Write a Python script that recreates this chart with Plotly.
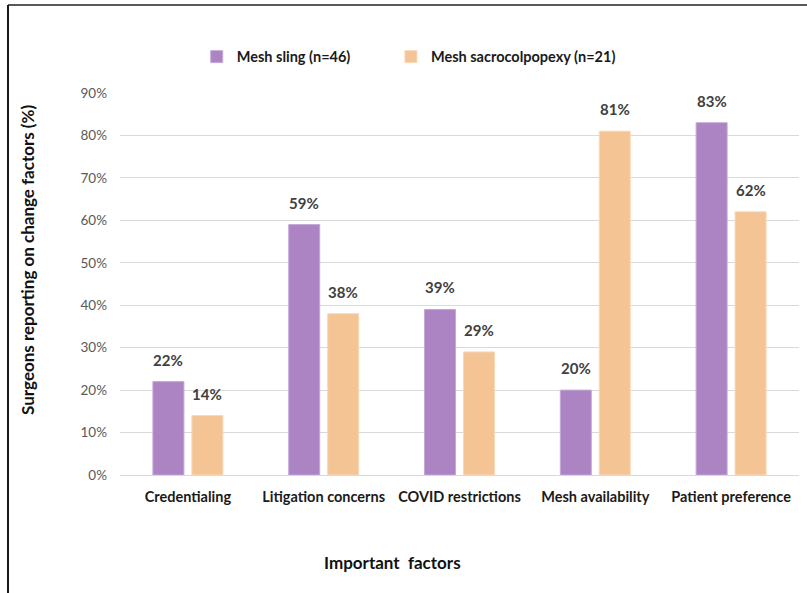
import plotly.graph_objects as go

# Survey results: share of surgeons citing each factor for a change in practice
factors = ["Credentialing", "Litigation concerns", "COVID restrictions",
           "Mesh availability", "Patient preference"]
mesh_sling = [22, 59, 39, 20, 83]
mesh_sacrocolpopexy = [14, 38, 29, 81, 62]
series_names = ["Mesh sling (n=46)", "Mesh sacrocolpopexy (n=21)"]
y_ticks = [0, 10, 20, 30, 40, 50, 60, 70, 80, 90]
y_tick_labels = [f"{t}%" for t in y_ticks]

FONT = "Lato, Carlito, Calibri, sans-serif"
PURPLE = "#ac84c4"
ORANGE = "#f4c495"
LABEL_GRAY = "#404040"

series = [
    (series_names[0], mesh_sling, PURPLE, "#c4a8d6", "legend", -19.5),
    (series_names[1], mesh_sacrocolpopexy, ORANGE, "#f8d8b8", "legend2", 19.5),
]

fig = go.Figure()
annotations = []
for name, vals, color, edge, leg, shift in series:
    fig.add_trace(go.Bar(
        x=factors, y=vals, name=name, legend=leg,
        marker=dict(color=color, line=dict(color=edge, width=1)),
    ))
    # value labels placed above each bar
    for f, v in zip(factors, vals):
        annotations.append(dict(
            x=f, y=v, xref="x", yref="y", text=f"{v}%", showarrow=False,
            xanchor="center", yanchor="bottom", xshift=shift, yshift=11,
            font=dict(family=FONT, size=15, color=LABEL_GRAY, weight="bold"),
        ))

legend_font = dict(family=FONT, size=14.5, color="#1a1a1a", weight="bold")

annotations += [
    dict(text="Surgeons reporting on change factors (%)", textangle=-90,
         xref="paper", yref="paper", x=-0.1355, y=0.563,
         xanchor="center", yanchor="middle", showarrow=False,
         font=dict(family=FONT, size=17, color="#111111", weight="bold")),
    dict(text="Important  factors",
         xref="paper", yref="paper", x=0.401, y=-0.23,
         xanchor="center", yanchor="middle", showarrow=False,
         font=dict(family=FONT, size=17, color="#111111", weight="bold")),
]

fig.update_layout(
    width=807, height=593,
    margin=dict(l=120, r=8, t=93, b=118),
    paper_bgcolor="white", plot_bgcolor="white",
    barmode="group", bargap=0.426, bargroupgap=0.205,
    showlegend=True,
    legend=dict(
        orientation="h", x=0.113, y=1.095, xanchor="left", yanchor="middle",
        font=legend_font, itemwidth=30, bgcolor="rgba(0,0,0,0)",
    ),
    legend2=dict(
        orientation="h", x=0.399, y=1.095, xanchor="left", yanchor="middle",
        font=legend_font, itemwidth=30, bgcolor="rgba(0,0,0,0)",
    ),
    xaxis=dict(
        showgrid=False, showline=True, linecolor="#d9d9d9", linewidth=1,
        ticks="", ticklabelstandoff=9,
        tickfont=dict(family=FONT, size=14.5, color="#1a1a1a", weight="bold"),
    ),
    yaxis=dict(
        range=[0, 90], tickvals=y_ticks, ticktext=y_tick_labels,
        showgrid=True, gridcolor="#d9d9d9", gridwidth=1, zeroline=False,
        ticks="", ticklabelstandoff=12,
        tickfont=dict(family=FONT, size=13.5, color="#595959"),
    ),
    annotations=annotations,
    shapes=[
        # frame lines along the top and left of the figure
        dict(type="line", xref="paper", yref="paper",
             x0=-112 / 679, x1=687 / 679, y0=1 + 88 / 382, y1=1 + 88 / 382,
             line=dict(color="#595959", width=2)),
        dict(type="line", xref="paper", yref="paper",
             x0=-112 / 679, x1=-112 / 679, y0=1 + 88 / 382, y1=-118 / 382,
             line=dict(color="#1a1a1a", width=2)),
    ],
)

fig.write_html("out.html")
